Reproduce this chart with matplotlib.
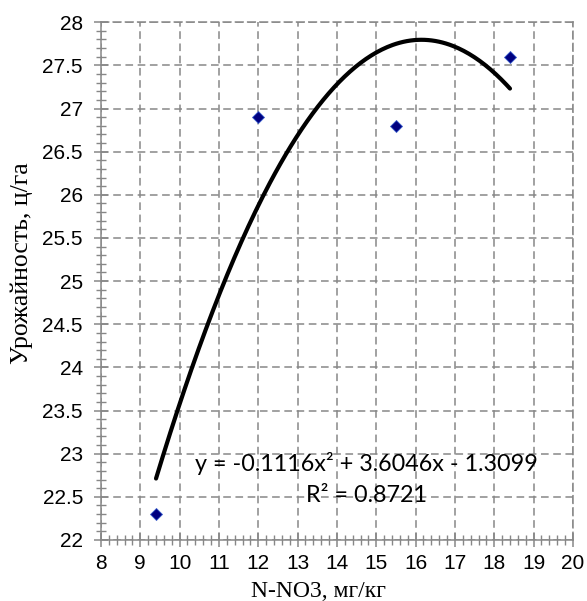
import numpy as np
import matplotlib
matplotlib.use('Agg')
import matplotlib.pyplot as plt
from matplotlib.ticker import MultipleLocator

# Data
nitrate = [9.4, 12.0, 15.5, 18.4]
yield_vals = [22.3, 26.9, 26.8, 27.6]

# Polynomial trend (2nd order) as printed on the chart
coef = [-0.1116, 3.6046, -1.3099]
r2 = 0.8721

x_ticks = list(range(8, 21))
y_ticks = [22, 22.5, 23, 23.5, 24, 24.5, 25, 25.5, 26, 26.5, 27, 27.5, 28]

plt.rcParams['font.family'] = ['Liberation Sans', 'DejaVu Sans']
plt.rcParams['xtick.labelsize'] = 15
plt.rcParams['ytick.labelsize'] = 15

fig = plt.figure(figsize=(5.87, 6.01), dpi=100)
ax = fig.add_axes([0.172, 0.1015, 0.804, 0.8615])

grey = '#878787'

# grid
ax.grid(True, which='major', color=grey, linestyle=(0, (5, 3)), linewidth=1.1)
ax.set_axisbelow(True)

# trend line
xs = np.linspace(min(nitrate), max(nitrate), 200)
ax.plot(xs, np.polyval(coef, xs), color='black', linewidth=3, solid_capstyle='round', zorder=3)

# points
ax.plot(nitrate, yield_vals, linestyle='none', marker='D', markersize=6.5,
        markerfacecolor='#000080', markeredgecolor='#3a5fcd', markeredgewidth=0.6, zorder=4)

ax.set_xlim(8, 20)
ax.set_ylim(22, 28)
ax.set_xticks(x_ticks)
ax.set_yticks(y_ticks)
ax.set_yticklabels([f'{v:g}' for v in y_ticks])
ax.xaxis.set_minor_locator(MultipleLocator(0.2))
ax.yaxis.set_minor_locator(MultipleLocator(0.1))

ax.tick_params(which='major', direction='inout', length=10, width=1.1, color=grey)
ax.tick_params(which='minor', direction='inout', length=7, width=1.0, color=grey)
ax.tick_params(axis='x', which='major', pad=5)
ax.tick_params(axis='y', which='major', pad=8)

for side in ['left', 'bottom']:
    ax.spines[side].set_color(grey)
    ax.spines[side].set_linewidth(1.1)
for side in ['top', 'right']:
    ax.spines[side].set_color(grey)
    ax.spines[side].set_linewidth(1.1)
    ax.spines[side].set_linestyle((0, (5, 3)))

# axis titles
fig.text(318 / 587, 1 - 597 / 601, 'N-NO3, мг/кг', fontfamily='Liberation Serif', fontsize=17,
         ha='center', va='baseline')
fig.text(22 / 587, 1 - 263 / 601, 'Урожайность, ц/га', fontfamily='Liberation Serif', fontsize=18.5,
         ha='center', va='center', rotation=90)

# trendline equation
ax.text(14.74, 22.89, 'y = -0.1116x² + 3.6046x - 1.3099', fontfamily='Lato', fontsize=16.8,
        ha='center', va='center', zorder=5)
ax.text(14.74, 22.52, f'R² = {r2}', fontfamily='Lato', fontsize=16.8,
        ha='center', va='center', zorder=5)

fig.savefig('out.png', dpi=100)
